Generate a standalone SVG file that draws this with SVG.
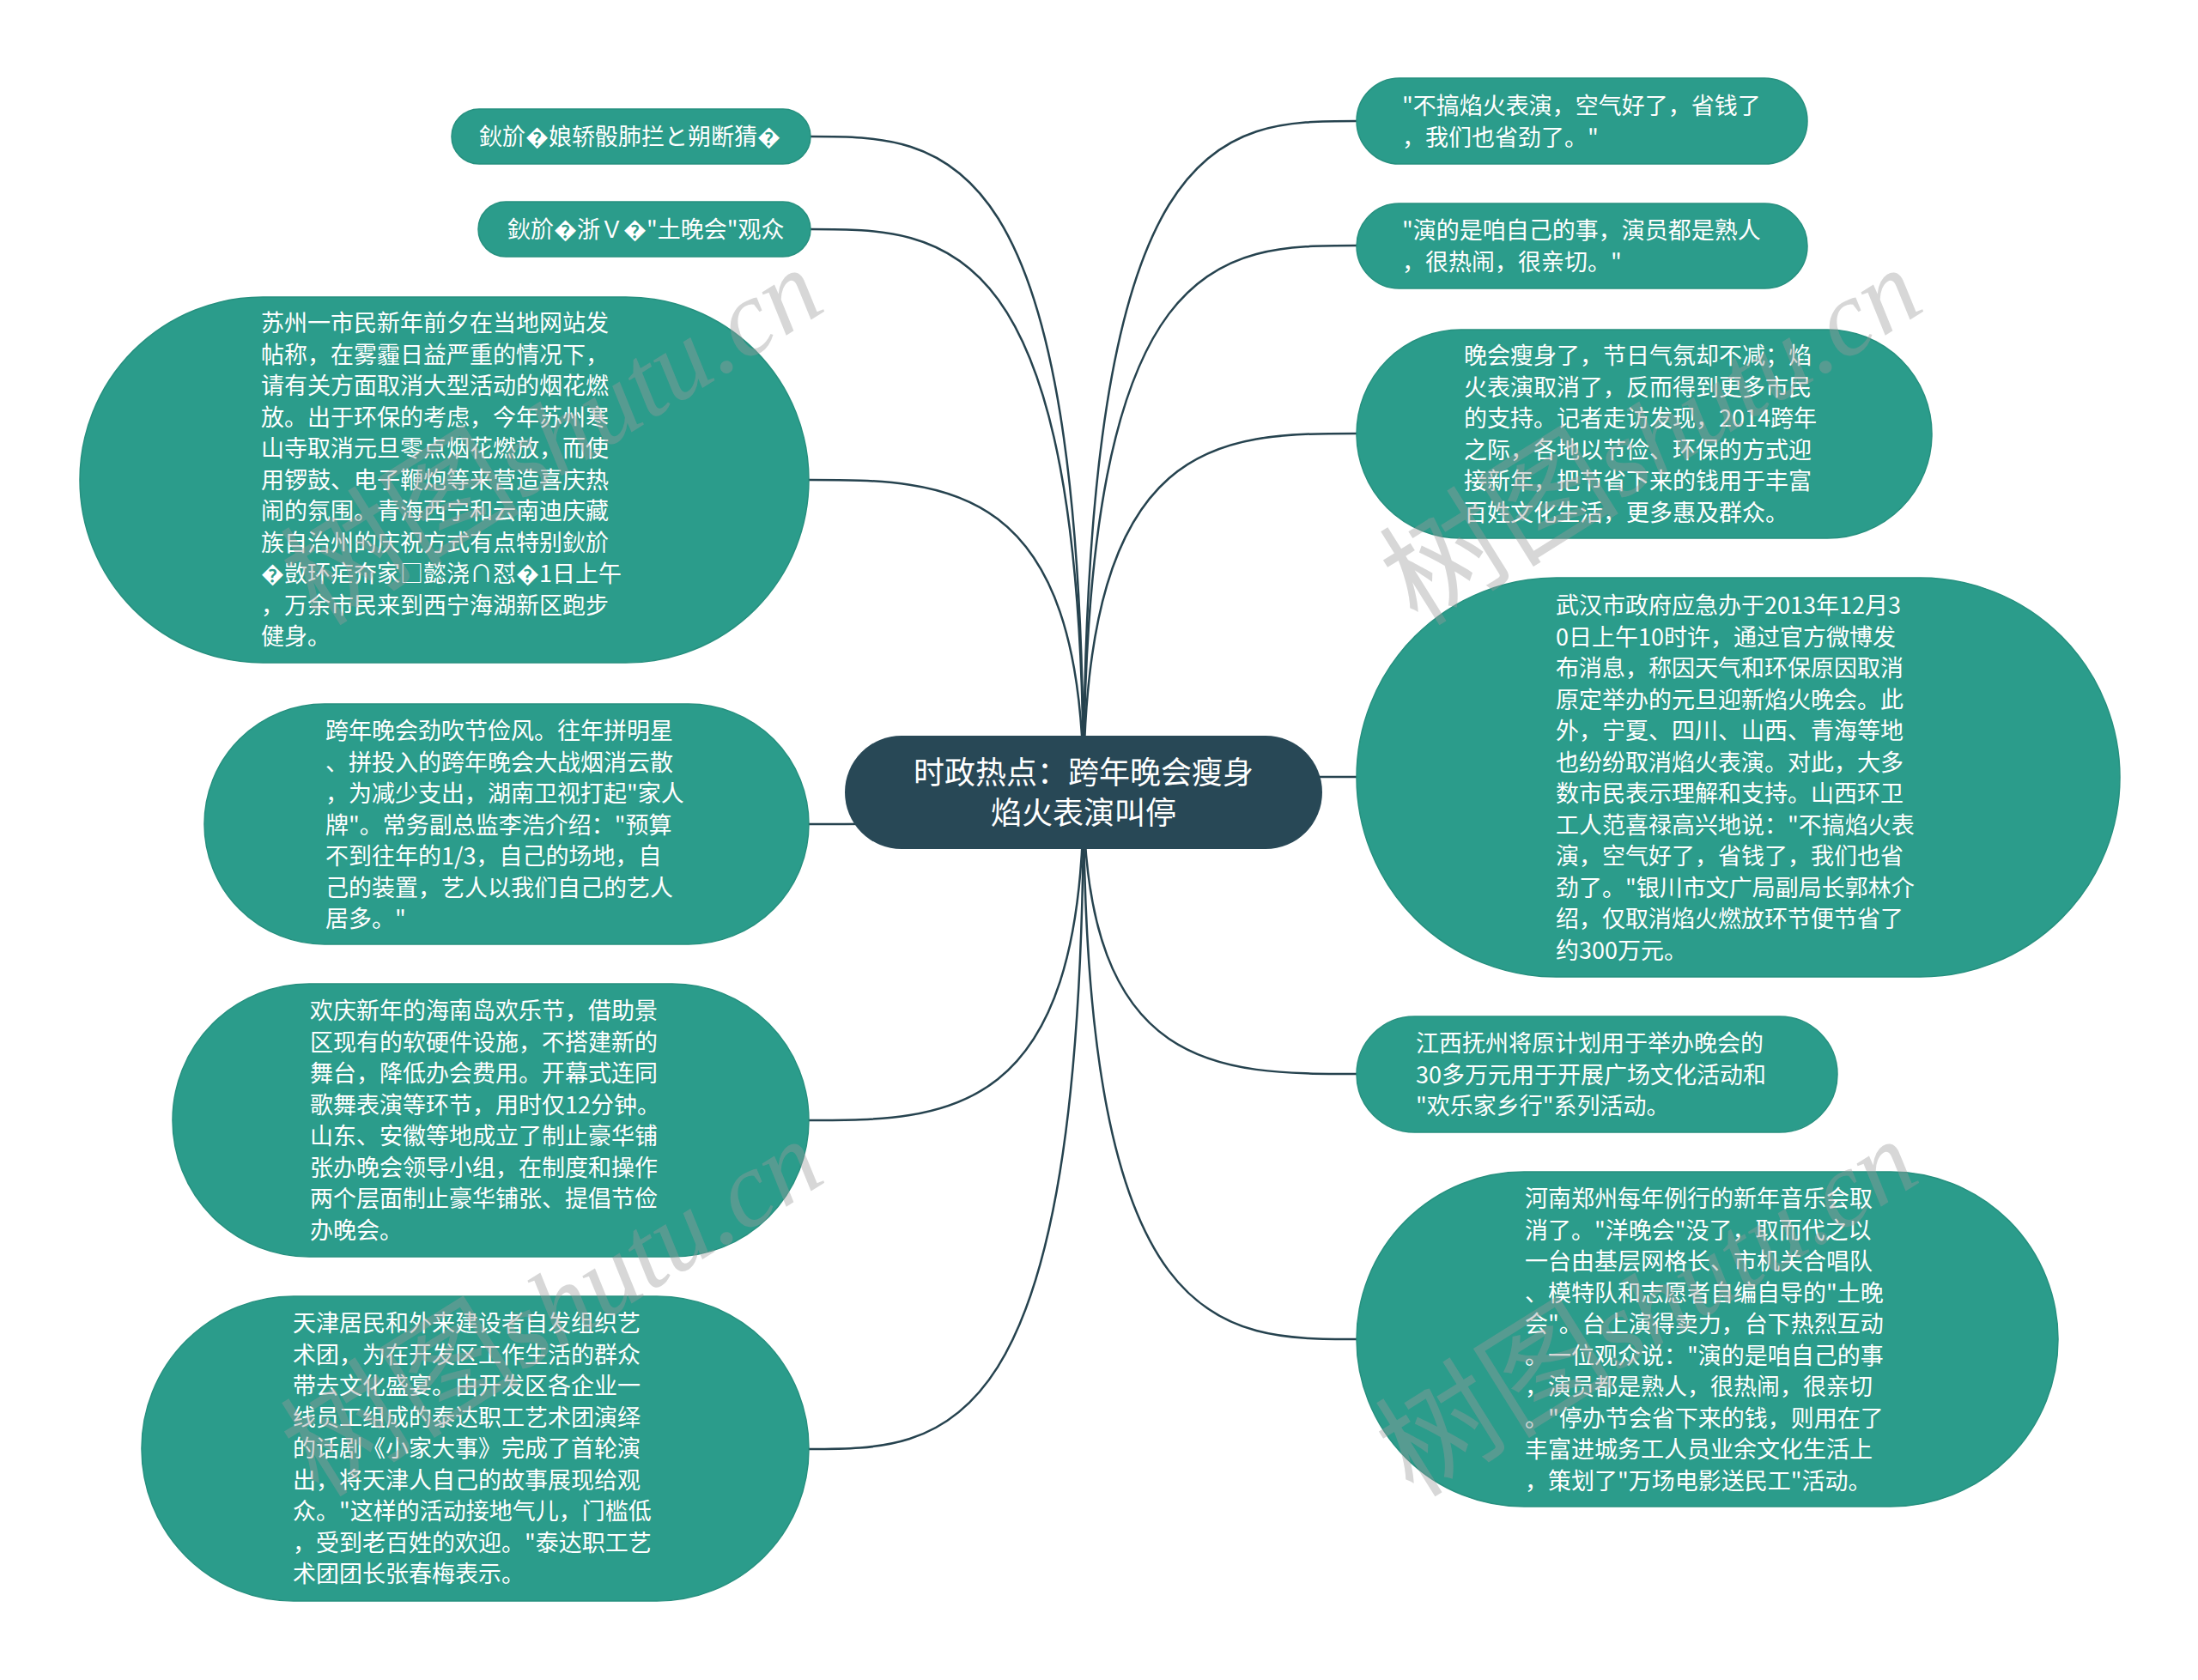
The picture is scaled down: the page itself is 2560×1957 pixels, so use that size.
<svg xmlns="http://www.w3.org/2000/svg" width="2560" height="1957" viewBox="0 0 2560 1957">
<style>
.n{fill:#2b9c8b;stroke:#26907f;stroke-width:1.5}
.c{fill:#284856}
.t{font-family:"Noto Sans CJK SC","Noto Sans",sans-serif;font-size:27px;fill:#ffffff}
.ct{font-family:"Noto Sans CJK SC","Noto Sans",sans-serif;font-size:36px;fill:#ffffff;text-anchor:middle}
.l{fill:none;stroke:#26434f;stroke-width:2.5}
.wm{font-family:"Liberation Serif","Noto Serif CJK SC","Noto Sans CJK SC",serif;font-size:125px;font-style:italic;fill:#9a9a9a;fill-opacity:0.4;text-anchor:end}
.wc{font-size:140px;font-style:normal;font-family:"Noto Sans CJK SC",sans-serif}
</style>
<rect width="2560" height="1957" fill="#ffffff"/>
<g id="connectors">
<path class="l" d="M1262 923 C1262 159 1103 159 944 159"/>
<path class="l" d="M1262 923 C1262 267 1103 267 944 267"/>
<path class="l" d="M1262 923 C1262 559 1102 559 942 559"/>
<path class="l" d="M1262 923 C1262 960 1102 960 942 960"/>
<path class="l" d="M1262 923 C1262 1305 1102 1305 942 1305"/>
<path class="l" d="M1262 923 C1262 1688 1102 1688 942 1688"/>
<path class="l" d="M1262 923 C1262 141 1421 141 1580 141"/>
<path class="l" d="M1262 923 C1262 286 1421 286 1580 286"/>
<path class="l" d="M1262 923 C1262 505 1421 505 1580 505"/>
<path class="l" d="M1262 923 C1262 905 1421 905 1580 905"/>
<path class="l" d="M1262 923 C1262 1251 1421 1251 1580 1251"/>
<path class="l" d="M1262 923 C1262 1560 1421 1560 1580 1560"/>
</g>
<g id="center">
<rect class="c" x="984" y="857" width="556" height="132" rx="66"/>
<text class="ct" x="1262" y="913">时政热点：跨年晚会瘦身</text>
<text class="ct" x="1262" y="960">焰火表演叫停</text>
</g>
<g id="L1">
<rect class="n" x="526" y="127" width="418" height="64" rx="32"/>
<text class="t" x="558" y="169">鈥斺�娘轿骰肺拦と朔断猜�</text>
</g>
<g id="L2">
<rect class="n" x="557" y="235" width="387" height="64" rx="32"/>
<text class="t" x="591" y="277">鈥斺�浙Ｖ�"土晚会"观众</text>
</g>
<g id="L3">
<rect class="n" x="93" y="346" width="849" height="426" rx="213"/>
<text class="t" x="304" y="386"><tspan x="304">苏州一市民新年前夕在当地网站发</tspan><tspan x="304" dy="36.5">帖称，在雾霾日益严重的情况下，</tspan><tspan x="304" dy="36.5">请有关方面取消大型活动的烟花燃</tspan><tspan x="304" dy="36.5">放。出于环保的考虑，今年苏州寒</tspan><tspan x="304" dy="36.5">山寺取消元旦零点烟花燃放，而使</tspan><tspan x="304" dy="36.5">用锣鼓、电子鞭炮等来营造喜庆热</tspan><tspan x="304" dy="36.5">闹的氛围。青海西宁和云南迪庆藏</tspan><tspan x="304" dy="36.5">族自治州的庆祝方式有点特别鈥斺</tspan><tspan x="304" dy="36.5">�敳环疟夼家□懿浇∩怼�1日上午</tspan><tspan x="304" dy="36.5">，万余市民来到西宁海湖新区跑步</tspan><tspan x="304" dy="36.5">健身。</tspan></text>
</g>
<g id="L4">
<rect class="n" x="238" y="820" width="704" height="280" rx="140"/>
<text class="t" x="379" y="861"><tspan x="379">跨年晚会劲吹节俭风。往年拼明星</tspan><tspan x="379" dy="36.5">、拼投入的跨年晚会大战烟消云散</tspan><tspan x="379" dy="36.5">，为减少支出，湖南卫视打起"家人</tspan><tspan x="379" dy="36.5">牌"。常务副总监李浩介绍："预算</tspan><tspan x="379" dy="36.5">不到往年的1/3，自己的场地，自</tspan><tspan x="379" dy="36.5">己的装置，艺人以我们自己的艺人</tspan><tspan x="379" dy="36.5">居多。"</tspan></text>
</g>
<g id="L5">
<rect class="n" x="201" y="1146" width="741" height="318" rx="159"/>
<text class="t" x="361" y="1187"><tspan x="361">欢庆新年的海南岛欢乐节，借助景</tspan><tspan x="361" dy="36.5">区现有的软硬件设施，不搭建新的</tspan><tspan x="361" dy="36.5">舞台，降低办会费用。开幕式连同</tspan><tspan x="361" dy="36.5">歌舞表演等环节，用时仅12分钟。</tspan><tspan x="361" dy="36.5">山东、安徽等地成立了制止豪华铺</tspan><tspan x="361" dy="36.5">张办晚会领导小组，在制度和操作</tspan><tspan x="361" dy="36.5">两个层面制止豪华铺张、提倡节俭</tspan><tspan x="361" dy="36.5">办晚会。</tspan></text>
</g>
<g id="L6">
<rect class="n" x="165" y="1510" width="777" height="355" rx="177"/>
<text class="t" x="341" y="1551"><tspan x="341">天津居民和外来建设者自发组织艺</tspan><tspan x="341" dy="36.5">术团，为在开发区工作生活的群众</tspan><tspan x="341" dy="36.5">带去文化盛宴。由开发区各企业一</tspan><tspan x="341" dy="36.5">线员工组成的泰达职工艺术团演绎</tspan><tspan x="341" dy="36.5">的话剧《小家大事》完成了首轮演</tspan><tspan x="341" dy="36.5">出，将天津人自己的故事展现给观</tspan><tspan x="341" dy="36.5">众。"这样的活动接地气儿，门槛低</tspan><tspan x="341" dy="36.5">，受到老百姓的欢迎。"泰达职工艺</tspan><tspan x="341" dy="36.5">术团团长张春梅表示。</tspan></text>
</g>
<g id="R1">
<rect class="n" x="1580" y="91" width="525" height="100" rx="50"/>
<text class="t" x="1633" y="133"><tspan x="1633">"不搞焰火表演，空气好了，省钱了</tspan><tspan x="1633" dy="36.5">，我们也省劲了。"</tspan></text>
</g>
<g id="R2">
<rect class="n" x="1580" y="237" width="525" height="99" rx="49.5"/>
<text class="t" x="1633" y="278"><tspan x="1633">"演的是咱自己的事，演员都是熟人</tspan><tspan x="1633" dy="36.5">，很热闹，很亲切。"</tspan></text>
</g>
<g id="R3">
<rect class="n" x="1580" y="384" width="670" height="243" rx="121.5"/>
<text class="t" x="1705" y="424"><tspan x="1705">晚会瘦身了，节日气氛却不减；焰</tspan><tspan x="1705" dy="36.5">火表演取消了，反而得到更多市民</tspan><tspan x="1705" dy="36.5">的支持。记者走访发现，2014跨年</tspan><tspan x="1705" dy="36.5">之际，各地以节俭、环保的方式迎</tspan><tspan x="1705" dy="36.5">接新年，把节省下来的钱用于丰富</tspan><tspan x="1705" dy="36.5">百姓文化生活，更多惠及群众。</tspan></text>
</g>
<g id="R4">
<rect class="n" x="1580" y="673" width="889" height="465" rx="232.5"/>
<text class="t" x="1812" y="715"><tspan x="1812">武汉市政府应急办于2013年12月3</tspan><tspan x="1812" dy="36.5">0日上午10时许，通过官方微博发</tspan><tspan x="1812" dy="36.5">布消息，称因天气和环保原因取消</tspan><tspan x="1812" dy="36.5">原定举办的元旦迎新焰火晚会。此</tspan><tspan x="1812" dy="36.5">外，宁夏、四川、山西、青海等地</tspan><tspan x="1812" dy="36.5">也纷纷取消焰火表演。对此，大多</tspan><tspan x="1812" dy="36.5">数市民表示理解和支持。山西环卫</tspan><tspan x="1812" dy="36.5">工人范喜禄高兴地说："不搞焰火表</tspan><tspan x="1812" dy="36.5">演，空气好了，省钱了，我们也省</tspan><tspan x="1812" dy="36.5">劲了。"银川市文广局副局长郭林介</tspan><tspan x="1812" dy="36.5">绍，仅取消焰火燃放环节便节省了</tspan><tspan x="1812" dy="36.5">约300万元。</tspan></text>
</g>
<g id="R5">
<rect class="n" x="1580" y="1184" width="560" height="135" rx="67.5"/>
<text class="t" x="1649" y="1225"><tspan x="1649">江西抚州将原计划用于举办晚会的</tspan><tspan x="1649" dy="36.5">30多万元用于开展广场文化活动和</tspan><tspan x="1649" dy="36.5">"欢乐家乡行"系列活动。</tspan></text>
</g>
<g id="R6">
<rect class="n" x="1580" y="1365" width="817" height="390" rx="195"/>
<text class="t" x="1776" y="1406"><tspan x="1776">河南郑州每年例行的新年音乐会取</tspan><tspan x="1776" dy="36.5">消了。"洋晚会"没了，取而代之以</tspan><tspan x="1776" dy="36.5">一台由基层网格长、市机关合唱队</tspan><tspan x="1776" dy="36.5">、模特队和志愿者自编自导的"土晚</tspan><tspan x="1776" dy="36.5">会"。台上演得卖力，台下热烈互动</tspan><tspan x="1776" dy="36.5">。一位观众说："演的是咱自己的事</tspan><tspan x="1776" dy="36.5">，演员都是熟人，很热闹，很亲切</tspan><tspan x="1776" dy="36.5">。"停办节会省下来的钱，则用在了</tspan><tspan x="1776" dy="36.5">丰富进城务工人员业余文化生活上</tspan><tspan x="1776" dy="36.5">，策划了"万场电影送民工"活动。</tspan></text>
</g>
<g id="watermarks">
<text class="wm" transform="translate(965 360) rotate(-32)"><tspan class="wc">树图</tspan>shutu.cn</text>
<text class="wm" transform="translate(2245 360) rotate(-32)"><tspan class="wc">树图</tspan>shutu.cn</text>
<text class="wm" transform="translate(965 1375) rotate(-32)"><tspan class="wc">树图</tspan>shutu.cn</text>
<text class="wm" transform="translate(2240 1375) rotate(-32)"><tspan class="wc">树图</tspan>shutu.cn</text>
</g>
</svg>
